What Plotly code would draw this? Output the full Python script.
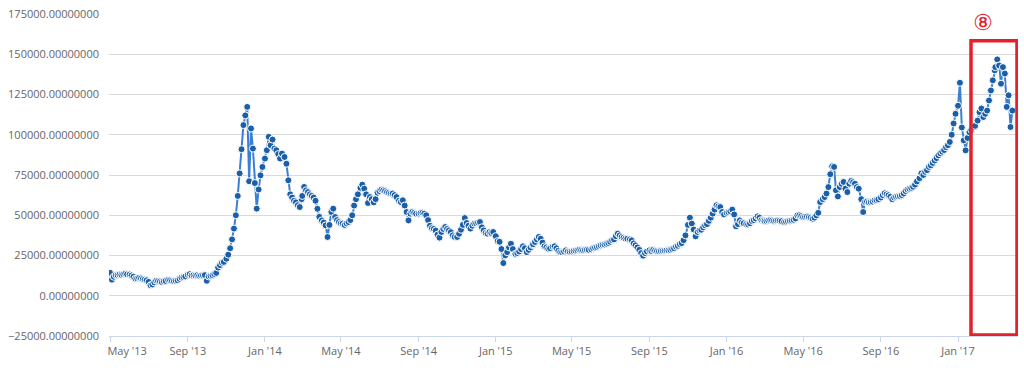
import pandas as pd
import plotly.graph_objects as go

# ---- data ----
months = ["2013-05", "2013-06", "2013-07", "2013-08", "2013-09", "2013-10", "2013-11", "2013-12",
          "2014-01", "2014-02", "2014-03", "2014-04", "2014-05", "2014-06", "2014-07", "2014-08",
          "2014-09", "2014-10", "2014-11", "2014-12",
          "2015-01", "2015-02", "2015-03", "2015-04", "2015-05", "2015-06", "2015-07", "2015-08",
          "2015-09", "2015-10", "2015-11", "2015-12",
          "2016-01", "2016-02", "2016-03", "2016-04", "2016-05", "2016-06", "2016-07", "2016-08",
          "2016-09", "2016-10", "2016-11", "2016-12",
          "2017-01", "2017-02", "2017-03"]
sample_days = [1, 4, 7, 10, 13, 16, 19, 22, 25, 28]

prices = [
    14300, 10000, 11800, 12800, 12900, 13200, 13000, 13400, 13700, 13300,   # 2013-05
    13200, 12600, 11800, 10600, 10800, 11200, 10800, 10400, 10000, 9600,    # 2013-06
    8600, 6500, 7000, 8300, 9300, 9200, 8900, 8500, 9000, 9200,             # 2013-07
    9800, 9600, 9300, 9100, 9300, 9600, 10500, 11300, 11600, 12000,         # 2013-08
    13000, 13400, 12600, 12800, 12600, 12800, 12400, 12600, 12700, 12800,   # 2013-09
    9300, 12000, 12400, 12800, 13500, 14200, 17500, 19000, 20500, 21000,    # 2013-10
    23000, 25500, 29500, 35000, 41700, 50000, 62000, 76000, 91000, 106000,  # 2013-11
    112000, 117300, 71100, 103900, 91400, 70000, 54100, 66000, 74800, 80000,  # 2013-12
    85200, 90400, 98700, 93500, 97000, 91400, 90400, 88000, 85200, 88300,   # 2014-01
    86200, 82000, 71700, 63000, 61000, 59000, 58000, 56200, 55100, 60000,   # 2014-02
    62000, 67600, 65500, 64400, 63000, 62000, 61000, 59000, 54000, 49000,   # 2014-03
    46800, 45500, 43700, 36500, 44000, 52000, 54100, 48900, 47000, 45800,   # 2014-04
    45000, 44800, 44000, 45000, 45800, 47000, 50000, 56000, 60000, 63000,   # 2014-05
    67000, 69000, 66500, 63000, 57600, 61300, 60000, 58000, 60000, 64000,   # 2014-06
    65000, 65900, 65500, 65000, 64400, 64000, 63500, 63500, 62500, 61300,   # 2014-07
    59000, 58200, 59300, 56000, 52000, 46800, 51000, 52000, 51500, 51000,   # 2014-08
    51000, 51400, 51500, 51000, 50000, 47000, 43500, 42000, 41500, 40500,   # 2014-09
    38000, 36100, 39600, 41500, 42700, 41500, 40600, 39500, 37500, 36500,   # 2014-10
    36500, 38500, 41000, 44000, 48300, 45200, 43500, 41700, 43500, 44800,   # 2014-11
    45000, 45500, 45800, 42500, 40600, 39000, 38600, 39500, 39000, 39600,   # 2014-12
    37000, 34000, 33500, 29000, 20300, 25100, 27100, 30000, 32300, 29000,   # 2015-01
    26000, 26500, 27500, 29000, 30700, 29500, 27100, 28500, 30000, 31500,   # 2015-02
    32000, 33400, 35000, 36500, 35400, 33000, 30700, 30000, 29200, 29500,   # 2015-03
    30500, 30700, 29500, 28000, 27100, 27000, 27500, 28200, 27500, 27300,   # 2015-04
    27500, 27800, 28000, 28300, 28600, 28400, 28200, 28400, 28600, 28500,   # 2015-05
    28800, 29500, 29900, 30200, 30800, 31300, 31600, 31800, 32300, 32800,   # 2015-06
    33500, 34500, 35000, 37000, 38600, 37500, 36500, 36000, 35500, 35400,   # 2015-07
    35000, 34400, 32500, 31300, 30000, 28500, 26500, 24900, 26500, 27500,   # 2015-08
    28200, 27800, 28500, 28000, 27800, 27600, 27800, 27900, 28000, 28200,   # 2015-09
    28200, 28500, 29000, 29500, 30500, 31000, 32000, 32700, 34500, 37500,   # 2015-10
    44000, 48500, 44800, 41100, 36900, 39600, 40600, 41000, 42500, 43700,   # 2015-11
    44500, 46500, 48500, 51000, 53500, 56200, 55500, 55100, 52000, 50500,   # 2015-12
    51500, 52000, 52500, 53500, 50500, 43100, 44500, 46800, 45500, 45000,   # 2016-01
    44500, 44300, 45000, 46400, 47000, 48000, 49300, 48500, 47000, 46800,   # 2016-02
    46400, 46500, 46800, 47000, 46800, 46500, 46700, 46800, 46600, 46300,   # 2016-03
    45800, 46000, 46300, 46600, 46800, 47200, 48000, 49900, 50000, 49500,   # 2016-04
    48900, 49000, 49200, 48900, 48500, 47900, 48500, 49900, 51500, 58200,   # 2016-05
    60000, 61300, 63500, 67500, 75500, 80400, 80000, 65500, 61700, 67500,   # 2016-06
    69500, 70700, 66500, 64400, 69600, 71300, 70500, 69600, 67500, 66500,   # 2016-07
    60000, 52000, 58200, 58500, 58000, 58200, 58500, 59300, 59500, 60000,   # 2016-08
    61000, 62500, 63600, 63000, 62400, 61500, 60000, 61000, 61500, 61800,   # 2016-09
    62000, 62500, 63500, 65000, 66000, 66500, 67000, 67700, 69000, 71000,   # 2016-10
    73000, 76000, 75000, 77000, 78000, 80000, 81000, 82500, 84000, 85500,   # 2016-11
    87200, 88500, 89500, 90500, 92300, 93500, 95500, 100000, 107000, 113000,  # 2016-12
    118000, 132300, 104500, 96500, 90300, 98000, 101600, 103000, 104500, 105500,  # 2017-01
    108800, 114000, 116300, 111000, 113000, 115000, 121300, 127500, 133800, 140000,  # 2017-02
    142000, 146800, 143000, 131700, 142000, 138000, 117300, 124500, 104800, 115000,  # 2017-03
]

x_tick_dates = ["2013-05-01", "2013-09-01", "2014-01-01", "2014-05-01", "2014-09-01", "2015-01-01",
                "2015-05-01", "2015-09-01", "2016-01-01", "2016-05-01", "2016-09-01", "2017-01-01"]
x_tick_labels = ["May '13", "Sep '13", "Jan '14", "May '14", "Sep '14", "Jan '15",
                 "May '15", "Sep '15", "Jan '16", "May '16", "Sep '16", "Jan '17"]
y_ticks = [-25000, 0, 25000, 50000, 75000, 100000, 125000, 150000, 175000]
highlight_label = "⑧"

# ---- build ----
dates = [pd.Timestamp(f"{m}-{d:02d}") for m in months for d in sample_days]
assert len(dates) == len(prices)

ticktext = list(x_tick_labels)
ticktext[0] = "\u00a0" * 12 + ticktext[0]

fig = go.Figure()
fig.add_trace(go.Scatter(
    x=dates, y=prices, mode="lines+markers",
    line=dict(color="#3a7fd6", width=2),
    marker=dict(color="#1a5fa8", size=7, line=dict(color="#ffffff", width=1.0)),
    hoverinfo="x+y", showlegend=False,
))

fig.add_shape(type="rect", xref="x", yref="y",
              x0="2017-01-21 12:00", x1="2017-04-04 06:00", y0=-24380, y1=158460,
              line=dict(color="#e3212b", width=3.5), fillcolor="rgba(0,0,0,0)", layer="above")

fig.add_annotation(xref="paper", yref="paper", x=(983 - 109) / 909, y=(336 - 22) / 322,
                   text=highlight_label, showarrow=False, xanchor="center", yanchor="middle",
                   font=dict(family="DejaVu Sans, Noto Sans CJK JP", size=22, color="#e3212b"))

font_family = "Open Sans, Liberation Sans, Arial, sans-serif"
fig.update_layout(
    width=1024, height=368,
    margin=dict(l=109, r=6, t=14, b=32),
    paper_bgcolor="#ffffff", plot_bgcolor="#ffffff",
    font=dict(family=font_family, size=11, color="#666666"),
    xaxis=dict(
        type="date", range=["2013-04-29 10:00", "2017-04-05 20:00"],
        tickvals=x_tick_dates, ticktext=ticktext,
        showgrid=False, zeroline=False,
        showline=True, linecolor="#ccd6eb", linewidth=1,
        ticks="outside", ticklen=5, tickcolor="#ccd6eb",
        tickfont=dict(family=font_family, size=11, color="#666666"),
    ),
    yaxis=dict(
        range=[-25000, 175000], tickvals=y_ticks, tickformat=".8f",
        showgrid=True, gridcolor="#dadada", gridwidth=1,
        zeroline=False, showline=False, ticks="",
        ticklabelstandoff=9,
        tickfont=dict(family=font_family, size=11, color="#666666"),
    ),
)

fig.write_html(
    "out.html",
    config={"displayModeBar": False},
    post_script="document.body.style.margin='0';document.body.style.overflow='hidden';",
)
